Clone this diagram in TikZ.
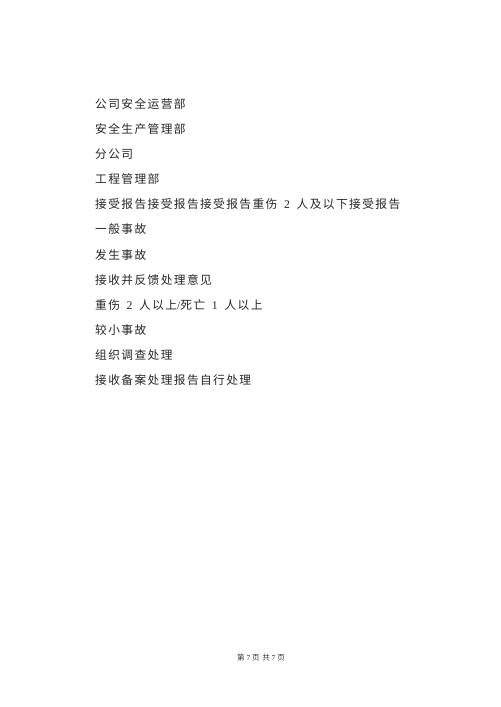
\documentclass[tikz,border=0pt]{standalone}
\usepackage{fontspec}
\setmainfont{Liberation Serif}
\newfontfamily\cjk[LetterSpace=12]{Noto Sans CJK SC}
\newcommand{\num}[1]{{\rmfamily\hspace{8pt}#1\hspace{8pt}}}

\def\linestep{25.1}

\tikzset{
  bodyline/.style={anchor=west, inner sep=0pt, font=\cjk\fontsize{14pt}{16pt}\selectfont, text=black!85},
  footline/.style={anchor=center, inner sep=0pt, font=\cjk\fontsize{9pt}{11pt}\selectfont, text=black!80}
}

\begin{document}
\begin{tikzpicture}[x=0.042cm, y=-0.042cm]
  \useasboundingbox (0,0) rectangle (500,707);

  \node[bodyline] (opdept) at (95,104) {公司安全运营部};
  \node[bodyline] (safedept) at (95,104+\linestep) {安全生产管理部};
  \node[bodyline] (branch) at (95,104+2*\linestep) {分公司};
  \node[bodyline] (engdept) at (95,104+3*\linestep) {工程管理部};
  \node[bodyline] (reports) at (95,104+4*\linestep) {接受报告接受报告接受报告重伤\num{2}人及以下接受报告};
  \node[bodyline] (general) at (95,104+5*\linestep) {一般事故};
  \node[bodyline] (occur) at (95,104+6*\linestep) {发生事故};
  \node[bodyline] (feedback) at (95,104+7*\linestep) {接收并反馈处理意见};
  \node[bodyline] (serious) at (95,104+8*\linestep) {重伤\num{2}人以上{\rmfamily/}死亡\num{1}人以上};
  \node[bodyline] (minor) at (95,104+9*\linestep) {较小事故};
  \node[bodyline] (investigate) at (95,104+10*\linestep) {组织调查处理};
  \node[bodyline] (filing) at (95,104+11*\linestep) {接收备案处理报告自行处理};

  \node[footline] (pageno) at (261,658) {第{\rmfamily\ 7\ }页\ 共{\rmfamily\ 7\ }页};

\end{tikzpicture}
\end{document}
